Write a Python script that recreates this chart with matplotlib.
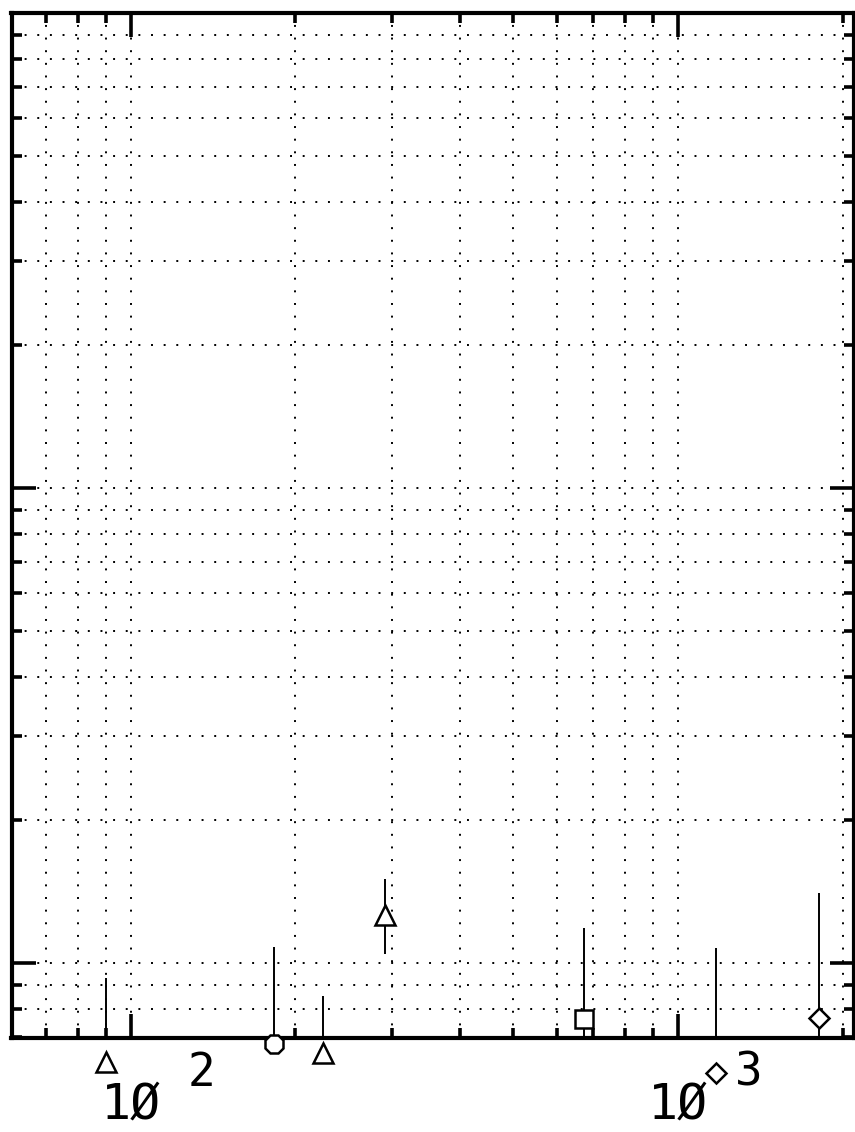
import matplotlib
matplotlib.use("Agg")
import matplotlib.pyplot as plt
import matplotlib.transforms as mtransforms
from matplotlib.ticker import LogLocator, NullFormatter

# ---- data ----
x_values = [90.0, 182.6, 224.4, 291.3, 673.0, 1173.0, 1811.0]
y_values = [0.619, 0.675, 0.646, 1.262, 0.762, 0.587, 0.766]
y_upper = [0.930, 1.080, 0.852, 1.503, 1.185, 1.075, 1.403]
y_lower = [0.619, 0.675, 0.646, 1.044, 0.60, 0.587, 0.60]
point_markers = ['^', '8', '^', '^', 's', 'D', 'D']
x_label_decades = [100, 1000]
x_label_exponents = ['2', '3']
x_limits = (60.6, 2090)
y_limits = (0.695, 100)

W, H = 855, 1132
fig = plt.figure(figsize=(W / 100, H / 100), dpi=100)
ax = fig.add_axes([11.5 / W, (H - 1038) / H, (853.5 - 11.5) / W, (1038 - 13) / H])
ax.set_xscale('log')
ax.set_yscale('log')
ax.set_xlim(*x_limits)
ax.set_ylim(*y_limits)

# grid
for axis in (ax.xaxis, ax.yaxis):
    axis.set_major_locator(LogLocator(base=10, numticks=10))
    axis.set_minor_locator(LogLocator(base=10, subs=range(2, 10), numticks=20))
    axis.set_major_formatter(NullFormatter())
    axis.set_minor_formatter(NullFormatter())
ax.grid(True, which='both', color='black', linestyle=(0, (1, 5.5)), linewidth=1.4)

ax.tick_params(which='both', direction='in', top=True, right=True, bottom=True, left=True,
               color='black', width=2.6)
ax.tick_params(which='major', length=17)
ax.tick_params(which='minor', length=7)
for s in ax.spines.values():
    s.set_linewidth(3)
    s.set_color('black')

# error lines (clipped to the axes) and markers (not clipped)
ax.vlines(x_values, y_lower, y_upper, color='black', linewidth=1.4, zorder=3)
sizes = {'^': 14, '8': 14, 's': 13, 'D': 10}
for xv, yv, m in zip(x_values, y_values, point_markers):
    ax.plot([xv], [yv], linestyle='none', marker=m, markersize=sizes[m],
            markerfacecolor='white', markeredgecolor='black', markeredgewidth=1.8,
            clip_on=False, zorder=4)

# decade labels in plotter style
trans = ax.get_xaxis_transform()
for dec, ex in zip(x_label_decades, x_label_exponents):
    ax.text(dec, -(1118 - 1038) / 1025, '1Ø', transform=trans, ha='center', va='baseline',
            fontsize=36, family='DejaVu Sans Mono', clip_on=False)
    t2 = mtransforms.offset_copy(trans, fig=fig, x=57 * 0.72, y=0, units='points')
    ax.text(dec, -(1086 - 1038) / 1025, ex, transform=t2, ha='left', va='baseline',
            fontsize=33, family='DejaVu Sans Mono', clip_on=False)

fig.savefig('out.png', dpi=100)
